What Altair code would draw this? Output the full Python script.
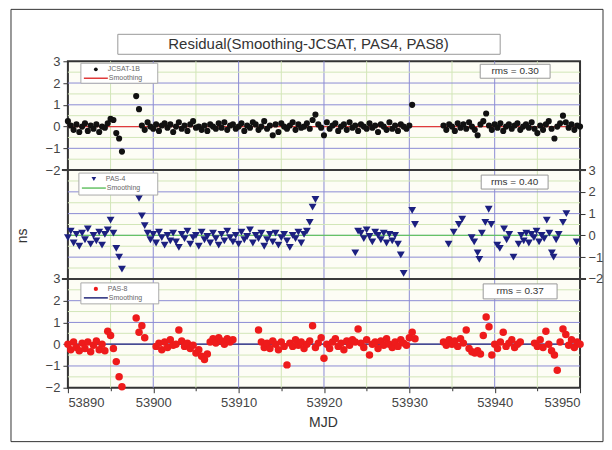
import altair as alt
import pandas as pd

STEP = 1.0 / 3.0  # sampling interval of the residual series (days)

# ---------------- JCSAT-1B residuals (ns) ----------------
jcsat_a_start = 53890.0
jcsat_a = [0.25, 0.05, -0.15, 0.10, -0.25, 0.00, 0.15, -0.20, 0.05, -0.10, 0.10, -0.25,
           0.00, -0.05, 0.15, 0.35, 0.30, -0.30, -0.55, -1.15]
jcsat_b_start = 53898.0
jcsat_b = [1.40, 0.80, 0.05, -0.15, 0.20, 0.00, -0.10, 0.10, -0.20, 0.05, 0.15, -0.05,
           0.10, -0.25, 0.00, 0.20, -0.10, 0.05, -0.20, 0.10, 0.25, -0.05, 0.00, -0.15,
           0.05, -0.20, 0.10, 0.00, -0.10, 0.15, -0.05, 0.20, -0.15, 0.05, 0.10, -0.10,
           0.00, 0.15, -0.20, 0.05, -0.05, 0.20, 0.10, -0.15, 0.00, 0.25, -0.10, 0.05,
           -0.40, 0.10, -0.25, 0.15, 0.00, -0.10, 0.05, 0.20, -0.15, 0.10, -0.05, 0.00,
           0.15, -0.10, 0.30, 0.55, 0.10, -0.05, -0.40, 0.20, -0.10, 0.05, 0.15, -0.20,
           0.00, 0.10, -0.15, 0.20, -0.05, 0.05, -0.20, 0.10, 0.00, -0.10, 0.15, -0.05,
           0.05, -0.25, 0.10, 0.00, -0.15, 0.20, -0.10, 0.05, -0.20, 0.10, 0.00, -0.10,
           0.05, 1.00]
jcsat_c_start = 53934.0
jcsat_c = [0.05, -0.15, 0.10, 0.00, -0.20, 0.15, -0.05, 0.10, -0.10, 0.20, 0.00, -0.15,
           -0.40, 0.10, 0.25, 0.60, 0.05, -0.15, 0.10, -0.05, 0.15, -0.20, 0.00, 0.10,
           -0.10, 0.05, 0.15, -0.15, 0.00, 0.10, -0.05, 0.20, -0.10, -0.30, 0.05, -0.15,
           0.10, 0.25, -0.10, -0.55, 0.00, 0.15, 0.50, 0.20, -0.05, 0.10, -0.15, 0.05,
           0.00]

# ---------------- PAS-4 residuals (ns) ----------------
pas4_a_start = 53890.0
pas4_a = [-0.10, 0.20, -0.35, 0.05, -0.50, 0.10, -0.20, 0.30, -0.40, 0.00, -0.25, 0.15,
          -0.45, 0.05, 0.25, 0.70, 0.10, -0.60, -1.00, -1.55]
pas4_b_start = 53898.0 + 1.0 / 3.0
pas4_b = [1.70, 0.90, 0.45, 0.10, -0.20, 0.05, -0.35, 0.15, -0.10, -0.45, 0.00, -0.25,
          0.10, -0.30, -0.55, 0.05, -0.15, 0.20, -0.40, -0.10, 0.00, -0.50, 0.15, -0.20,
          -0.05, -0.35, 0.10, -0.15, -0.45, 0.05, -0.25, 0.20, -0.10, -0.30, 0.00, -0.40,
          0.15, -0.20, -0.05, 0.25, -0.35, 0.00, -0.15, 0.10, -0.50, -0.20, 0.05, -0.30,
          0.10, -0.45, -0.10, 0.05, -0.25, -0.55, 0.00, -0.15, 0.15, -0.35, 0.05, 0.20,
          0.60, 1.30, 1.65]
pas4_c_start = 53923.0 + 2.0 / 3.0
pas4_c = [-0.80, 0.20, 0.10, -0.15, 0.25, -0.05, -0.30, 0.15, 0.00, -0.20, 0.10, -0.35,
          0.05, -0.25, 0.00, -0.40, -0.90, -1.75]
pas4_d_start = 53930.0 + 1.0 / 3.0
pas4_d = [1.15, 0.50]
pas4_e_mjd = [53934.6, 53935.2, 53935.8, 53936.2, 53937.3, 53937.6, 53938.0, 53938.2,
              53938.5, 53938.9, 53939.3, 53939.6, 53940.3, 53940.6, 53941.1, 53941.4,
              53941.7, 53942.2, 53942.8, 53943.1, 53943.4, 53943.7, 53944.0, 53944.3,
              53944.6, 53944.9, 53945.2, 53945.5, 53945.8, 53946.1, 53946.4, 53946.7,
              53946.9, 53947.2, 53947.5, 53948.0, 53948.4, 53949.6]
pas4_e = [-0.40, 0.15, 0.50, 0.75, -0.10, -0.30, -0.80, -1.10, 0.10, 0.60, 1.20, 0.50,
          -0.45, -0.60, 0.30, -0.20, 0.05, -1.00, -0.40, 0.00, -0.25, 0.10, -0.35, 0.05,
          -0.10, 0.20, -0.30, 0.00, -0.15, 0.70, 0.10, -0.80, -1.00, -0.20, 0.05, 0.60,
          1.00, -0.30]

# ---------------- PAS-8 residuals (ns) ----------------
pas8_a_start = 53890.0
pas8_a = [0.00, -0.25, 0.10, -0.15, -0.30, 0.05, -0.20, 0.10, -0.35, -0.05, 0.15, -0.25,
          0.00, -0.30, 0.60, 0.40, -0.20, -0.80, -1.50, -1.95]
pas8_b_start = 53898.0
pas8_b = [1.20, 0.55, 0.85, 0.30]
pas8_c_start = 53900.0 + 1.0 / 3.0
pas8_c = [-0.10, 0.05, -0.25, 0.10, -0.15, 0.20, -0.05, 0.00, 0.65, 0.15, -0.10, 0.05,
          -0.20, -0.05, -0.40, -0.25, -0.55, -0.70, -0.45, 0.10, 0.25, 0.05, 0.30, 0.15,
          0.00, 0.25, 0.10, 0.20]
pas8_d_start = 53912.0 + 1.0 / 3.0
pas8_d = [0.65, 0.10, -0.15, 0.05, -0.20, 0.15, 0.00, -0.25, 0.10, -0.10, -0.95, 0.05,
          -0.10, 0.20, -0.05, 0.10, -0.20, 0.00, 0.15, 0.85, -0.15, 0.05, 0.30, -0.65,
          0.00, -0.20, 0.10, 0.25, -0.10, 0.05, -0.25, 0.15, -0.05, 0.20, 0.10, 0.70,
          0.05, -0.15, 0.20, -0.50, 0.00, 0.10, -0.20, 0.15, -0.05, 0.25, 0.00, -0.15,
          0.10, -0.10, 0.20, 0.05, -0.05, 0.30, 0.55, 0.25]
pas8_e_start = 53934.0
pas8_e = [0.10, -0.05, 0.20, 0.00, 0.15, -0.10, 0.25, 0.05, 0.65, -0.20, -0.35, -0.40,
          -0.30, -0.45, 0.40, 1.25, 0.80, -0.50, 0.00, -0.20, 0.10, 0.55, -0.10, 0.05,
          0.20, -0.15, 0.00, 0.10]
pas8_f_start = 53944.0 + 2.0 / 3.0
pas8_f = [0.05, -0.10, 0.20, -0.15, 0.60, 0.00, -0.30, -0.50, -1.20, 0.10, 0.70, 0.45,
          -0.05, 0.20, -0.15, 0.10, 0.00]

# smoothing curves
smooth_mjd = [53890, 53950]
smooth_val = [0.0, 0.0]

# grid lines
x_major = [53900, 53910, 53920, 53930, 53940]
x_minor = [53895, 53905, 53915, 53925, 53935, 53945]
y_major = [-1, 0, 1, 2]
y_minor = [-1.5, -0.5, 0.5, 1.5, 2.5]

rms_labels = ["rms = 0.30", "rms = 0.40", "rms = 0.37"]
series_names = ["JCSAT-1B", "PAS-4", "PAS-8"]


def build(segments, extra_mjd=None, extra_val=None):
    rows = []
    for start, vals in segments:
        for i, v in enumerate(vals):
            rows.append({"mjd": start + i * STEP, "v": v})
    if extra_mjd:
        for m, v in zip(extra_mjd, extra_val):
            rows.append({"mjd": m, "v": v})
    return pd.DataFrame(rows)


df1 = build([(jcsat_a_start, jcsat_a), (jcsat_b_start, jcsat_b), (jcsat_c_start, jcsat_c)])
df2 = build([(pas4_a_start, pas4_a), (pas4_b_start, pas4_b), (pas4_c_start, pas4_c),
             (pas4_d_start, pas4_d)], pas4_e_mjd, pas4_e)
df3 = build([(pas8_a_start, pas8_a), (pas8_b_start, pas8_b), (pas8_c_start, pas8_c),
             (pas8_d_start, pas8_d), (pas8_e_start, pas8_e), (pas8_f_start, pas8_f)])
dfs = pd.DataFrame({"mjd": smooth_mjd, "v": smooth_val})
dxmaj = pd.DataFrame({"mjd": x_major})
dxmin = pd.DataFrame({"mjd": x_minor})
dymaj = pd.DataFrame({"v": y_major})
dymin = pd.DataFrame({"v": y_minor})
one = pd.DataFrame({"k": [0]})

W, H = 513, 327
PH = 109
GRID_MAJOR = "#8c8cd4"
GRID_MINOR = "#d2e6b8"
FONT = "Liberation Sans"

x_enc = alt.X(
    "mjd:Q",
    scale=alt.Scale(domain=[53890, 53950], nice=False, zero=False),
    axis=alt.Axis(
        values=list(range(53890, 53951, 5)), format="d",
        labelExpr="datum.value % 10 === 0 ? datum.label : ''",
        title=None, domain=False, grid=False,
        tickSize={"condition": {"test": "datum.value % 10 === 0", "value": 5}, "value": 3},
        tickColor="#333", labelFont=FONT, labelFontSize=13, labelColor="#444", labelPadding=4,
    ),
)

y_vals = [-2, -1.5, -1, -0.5, 0, 0.5, 1, 1.5, 2, 2.5, 3]


def y_enc(rng, orient, field="v:Q"):
    return alt.Y(
        field,
        scale=alt.Scale(domain=[-2, 3], range=rng, nice=False, zero=False),
        axis=alt.Axis(
            orient=orient, values=y_vals, format="d",
            labelExpr="datum.value % 1 === 0 ? datum.label : ''",
            title=None, domain=False, grid=False,
            tickSize={"condition": {"test": "datum.value % 1 === 0", "value": 5}, "value": 3},
            tickColor="#333", labelFont=FONT, labelFontSize=13, labelColor="#444", labelPadding=3,
        ),
    )


def panel(df, rng, orient, point_mark, smooth_color):
    ye = y_enc(rng, orient)
    gmin = alt.Chart(dymin).mark_rule(color=GRID_MINOR, strokeWidth=1).encode(
        y=ye, x=alt.value(0), x2=alt.value(W))
    gmaj = alt.Chart(dymaj).mark_rule(color=GRID_MAJOR, strokeWidth=1).encode(
        y=ye, x=alt.value(0), x2=alt.value(W))
    sm = alt.Chart(dfs).mark_line(color=smooth_color, strokeWidth=1.3).encode(x=x_enc, y=ye)
    pts = alt.Chart(df).mark_point(**point_mark).encode(x=x_enc, y=ye)
    return alt.layer(gmin, gmaj, sm, pts)


vgrid_min = alt.Chart(dxmin).mark_rule(color=GRID_MINOR, strokeWidth=1).encode(
    x=x_enc, y=alt.value(0), y2=alt.value(H))
vgrid_maj = alt.Chart(dxmaj).mark_rule(color=GRID_MAJOR, strokeWidth=1).encode(
    x=x_enc, y=alt.value(0), y2=alt.value(H))

p1 = panel(df1, [PH, 0], "left",
           dict(shape="circle", filled=True, size=38, color="#111111", opacity=1), "#e03a3a")
p2 = panel(df2, [2 * PH, PH], "right",
           dict(shape="triangle-down", filled=True, size=62, color="#1c2080", opacity=1), "#66c266")
p3 = panel(df3, [H, 2 * PH], "left",
           dict(shape="circle", filled=True, size=56, color="#ee1b1b", opacity=1), "#24287a")


def txt(text, x, y, **kw):
    return alt.Chart(one).mark_text(text=text, font=FONT, **kw).encode(x=alt.value(x), y=alt.value(y))


def box(x1, x2, y1, y2, **kw):
    return alt.Chart(one).mark_rect(**kw).encode(
        x=alt.value(x1), x2=alt.value(x2), y=alt.value(y1), y2=alt.value(y2))


def hline(x1, x2, y, color, width):
    return alt.Chart(one).mark_rule(color=color, strokeWidth=width).encode(
        x=alt.value(x1), x2=alt.value(x2), y=alt.value(y))


def sym(x, y, **kw):
    return alt.Chart(one).mark_point(**kw).encode(x=alt.value(x), y=alt.value(y))


deco = []
# outer frame
deco.append(box(-57, 536, -52, 381, fill="white", fillOpacity=0, stroke="#333", strokeWidth=1))
# panel separators
deco.append(hline(-6, W + 6, PH, "#3a3a3a", 2))
deco.append(hline(-6, W + 6, 2 * PH, "#3a3a3a", 2))
# title box
deco.append(box(50, 433, -27, -7, fill="white", stroke="#999", strokeWidth=1))
deco.append(txt("Residual(Smoothing-JCSAT, PAS4, PAS8)", 241, -17, fontSize=15,
                color="#333", align="center", baseline="middle"))
# axis titles
deco.append(txt("MJD", 256, 362, fontSize=14, color="#333", align="center", baseline="middle"))
deco.append(txt("ns", -45, 175, fontSize=14, color="#333", align="center", baseline="middle", angle=270))

# legends
leg = [
    (13, 90, 2, 22, dict(shape="circle", filled=True, size=14, color="#111"), "#e03a3a"),
    (11, 90, 112, 134, dict(shape="triangle-down", filled=True, size=22, color="#1c2080"), "#66c266"),
    (13, 91, 222, 243, dict(shape="circle", filled=True, size=18, color="#ee1b1b"), "#24287a"),
]
for (x1, x2, y1, y2, sk, lc), name in zip(leg, series_names):
    deco.append(box(x1, x2, y1, y2, fill="white", stroke="#aaa", strokeWidth=1))
    deco.append(sym(x1 + 15, y1 + 6, opacity=1, **sk))
    deco.append(txt(name, x1 + 27, y1 + 6, fontSize=7, color="#666", align="left", baseline="middle"))
    deco.append(hline(x1 + 3, x1 + 27, y1 + 15, lc, 1.5))
    deco.append(txt("Smoothing", x1 + 28, y1 + 15, fontSize=7, color="#666", align="left", baseline="middle"))

# rms boxes
rms_pos = [(413, 483, 3, 17), (414, 481, 114, 128), (416, 490, 223, 238)]
for (x1, x2, y1, y2), lab in zip(rms_pos, rms_labels):
    deco.append(box(x1, x2, y1, y2, fill="white", stroke="#999", strokeWidth=1))
    deco.append(txt(lab, (x1 + x2) / 2, (y1 + y2) / 2, fontSize=10, color="#333",
                    align="center", baseline="middle"))

chart = alt.layer(vgrid_min, vgrid_maj, p1, p2, p3, *deco).resolve_scale(y="independent").properties(
    width=W, height=H,
    padding={"left": 2, "top": 0, "right": 0, "bottom": 0},
).configure_view(
    stroke="#333", strokeWidth=2, fill="#fdfdf5"
)

chart.save("out.html", embed_options={"renderer": "svg", "actions": False})
